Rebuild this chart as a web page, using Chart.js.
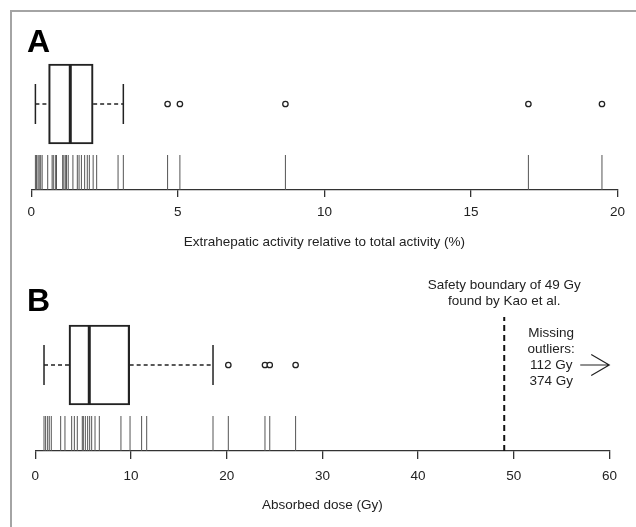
<!DOCTYPE html>
<html>
<head>
<meta charset="utf-8">
<script src="https://cdn.jsdelivr.net/npm/chart.js@4.4.1/dist/chart.umd.min.js"></script>
<style>
    body { margin: 0; background: #fff; }
    #page { position: relative; width: 636px; height: 527px; overflow: hidden; }
    #frame { position: absolute; left: 10px; top: 10px; width: 700px; height: 600px;
             border-top: 2px solid #a4a4a4; border-left: 2px solid #a4a4a4; }
    canvas { position: absolute; left: 0; }
</style>
</head>
<body>
<div id="page">
    <div id="frame"></div>
    <canvas id="chartA" width="636" height="262" style="top:0"></canvas>
    <canvas id="chartB" width="636" height="265" style="top:262px"></canvas>
</div>
<script>
// Panel A - extrahepatic activity (%)
const A_VALUES = [0.14, 0.18, 0.23, 0.27, 0.32, 0.37, 0.56, 0.71, 0.75, 0.82, 0.86, 1.07, 1.11, 1.16,
    1.20, 1.26, 1.42, 1.57, 1.63, 1.71, 1.82, 1.91, 1.98, 2.11, 2.23, 2.96, 3.14, 4.65, 5.07, 8.67, 16.96, 19.47];
// lower whisker, Q1, median, Q3, upper whisker
const A_BOX = [0.14, 0.59, 1.33, 2.11, 3.14];
const A_TICKS = [0, 5, 10, 15, 20];
const A_TITLE = "Extrahepatic activity relative to total activity (%)";

// Panel B - absorbed dose (Gy)
const B_VALUES = [0.91, 1.08, 1.29, 1.46, 1.67, 2.65, 3.10, 3.80, 4.08, 4.39, 4.91, 5.02, 5.23, 5.47, 5.68,
    5.89, 6.24, 6.69, 8.95, 9.90, 11.11, 11.64, 18.57, 20.17, 24.0, 24.5, 27.2, 112, 374];
const B_BOX = [0.91, 3.52, 5.64, 9.86, 18.57];
const B_TICKS = [0, 10, 20, 30, 40, 50, 60];
const B_TITLE = "Absorbed dose (Gy)";
const SAFETY_DOSE = 49;
const SAFETY_TEXT = ["Safety boundary of 49 Gy", "found by Kao et al."];
const MISSING_TEXT = ["Missing", "outliers:", "112 Gy", "374 Gy"];

const FONT = "'Liberation Sans', Arial, Helvetica, sans-serif";
const INK = "#222";
// vertical layout inside each panel (y scale runs in pixels above the axis)
const BOX_Y = 86, BOX_H = 80, CAP_H = 40, RUG_H = 35;

function seg(x0, y0, x1, y1, width, dash) {
    return {
        type: 'line',
        data: [{x: x0, y: y0}, {x: x1, y: y1}],
        borderColor: INK,
        borderWidth: width,
        borderDash: dash || [],
        pointRadius: 0,
        tension: 0
    };
}

function panelDatasets(values, box, xMax) {
    const [lo, q1, med, q3, hi] = box;
    const outliers = values.filter(v => (v > hi || v < lo) && v <= xMax);
    return [
        {
            type: 'bar',
            indexAxis: 'y',
            data: [{x: [q1, q3], y: BOX_Y}],
            barThickness: BOX_H,
            backgroundColor: 'rgba(0,0,0,0)',
            borderColor: INK,
            borderWidth: 1.5,
            borderSkipped: false
        },
        seg(med, BOX_Y - BOX_H / 2, med, BOX_Y + BOX_H / 2, 3),
        seg(lo, BOX_Y, q1, BOX_Y, 1.3, [4, 3]),
        seg(q3, BOX_Y, hi, BOX_Y, 1.3, [4, 3]),
        seg(lo, BOX_Y - CAP_H / 2, lo, BOX_Y + CAP_H / 2, 1.5),
        seg(hi, BOX_Y - CAP_H / 2, hi, BOX_Y + CAP_H / 2, 1.5),
        {
            type: 'scatter',
            data: outliers.map(v => ({x: v, y: BOX_Y})),
            pointStyle: 'circle',
            pointRadius: 2.7,
            borderWidth: 1.3,
            borderColor: INK,
            backgroundColor: '#fff'
        },
        {
            // rug of every observation
            type: 'scatter',
            data: values.filter(v => v <= xMax).map(v => ({x: v, y: RUG_H / 2})),
            pointStyle: 'line',
            rotation: 90,
            pointRadius: RUG_H / 2,
            borderWidth: 1,
            borderColor: '#555'
        }
    ];
}

function panelOptions(ticks, title, yMax, pad, axisH, tickLen, tickPad, titlePad) {
    return {
        responsive: false,
        animation: false,
        devicePixelRatio: 1,
        layout: {padding: pad},
        plugins: {legend: {display: false}, tooltip: {enabled: false}},
        scales: {
            x: {
                type: 'linear',
                min: ticks[0],
                max: ticks[ticks.length - 1],
                afterBuildTicks: scale => { scale.ticks = ticks.map(v => ({value: v})); },
                afterFit: scale => { scale.height = axisH; },
                ticks: {color: INK, font: {family: FONT, size: 13.5}, padding: tickPad, maxRotation: 0},
                grid: {drawOnChartArea: false, drawTicks: true, tickLength: tickLen, color: '#333', lineWidth: 1.3},
                border: {display: true, color: '#333', width: 1.3},
                title: {display: true, text: title, color: INK, font: {family: FONT, size: 13.5},
                        padding: {top: 0, bottom: titlePad}}
            },
            y: {type: 'linear', min: 0, max: yMax, display: false, offset: false}
        }
    };
}

function letterPlugin(letter, baseline) {
    return {
        id: 'letter' + letter,
        afterDraw(chart) {
            const ctx = chart.ctx;
            ctx.save();
            ctx.fillStyle = '#000';
            ctx.font = "bold 32px " + FONT;
            ctx.textBaseline = 'alphabetic';
            ctx.fillText(letter, 27, baseline);
            ctx.restore();
        }
    };
}

// annotations for the safety boundary and the off-scale outliers
const safetyPlugin = {
    id: 'safety',
    afterDraw(chart) {
        const ctx = chart.ctx;
        const lx = chart.scales.x.getPixelForValue(SAFETY_DOSE);
        const by = chart.scales.y.getPixelForValue(BOX_Y);
        ctx.save();
        ctx.fillStyle = INK;
        ctx.font = "13.5px " + FONT;
        ctx.textAlign = 'center';
        ctx.textBaseline = 'middle';
        SAFETY_TEXT.forEach((t, i) => ctx.fillText(t, lx, 23 + i * 16.7));
        MISSING_TEXT.forEach((t, i) => ctx.fillText(t, lx + 47, by - 32 + i * 16));
        ctx.strokeStyle = INK;
        ctx.lineWidth = 1.2;
        ctx.beginPath();
        ctx.moveTo(lx + 76, by);
        ctx.lineTo(lx + 105, by);
        ctx.moveTo(lx + 87, by - 10.5);
        ctx.lineTo(lx + 105, by);
        ctx.lineTo(lx + 87, by + 10.5);
        ctx.stroke();
        ctx.restore();
    }
};

document.addEventListener("DOMContentLoaded", function() {
    new Chart(document.getElementById('chartA'), {
        type: 'scatter',
        data: {datasets: panelDatasets(A_VALUES, A_BOX, A_TICKS[A_TICKS.length - 1])},
        options: panelOptions(A_TICKS, A_TITLE, 130, {left: 31.3, right: 12.7, top: 60, bottom: 0}, 72, 7, 7, 11.9),
        plugins: [letterPlugin('A', 52)]
    });

    const bSets = panelDatasets(B_VALUES, B_BOX, B_TICKS[B_TICKS.length - 1]);
    bSets.push(Object.assign(seg(SAFETY_DOSE, 0, SAFETY_DOSE, 134, 2, [6, 4]), {borderColor: '#111'}));
    new Chart(document.getElementById('chartB'), {
        type: 'scatter',
        data: {datasets: bSets},
        options: panelOptions(B_TICKS, B_TITLE, 140, {left: 35.3, right: 26.5, top: 49, bottom: 0}, 76, 8, 9, 13.9),
        plugins: [letterPlugin('B', 48.7), safetyPlugin]
    });
});
</script>
</body>
</html>
